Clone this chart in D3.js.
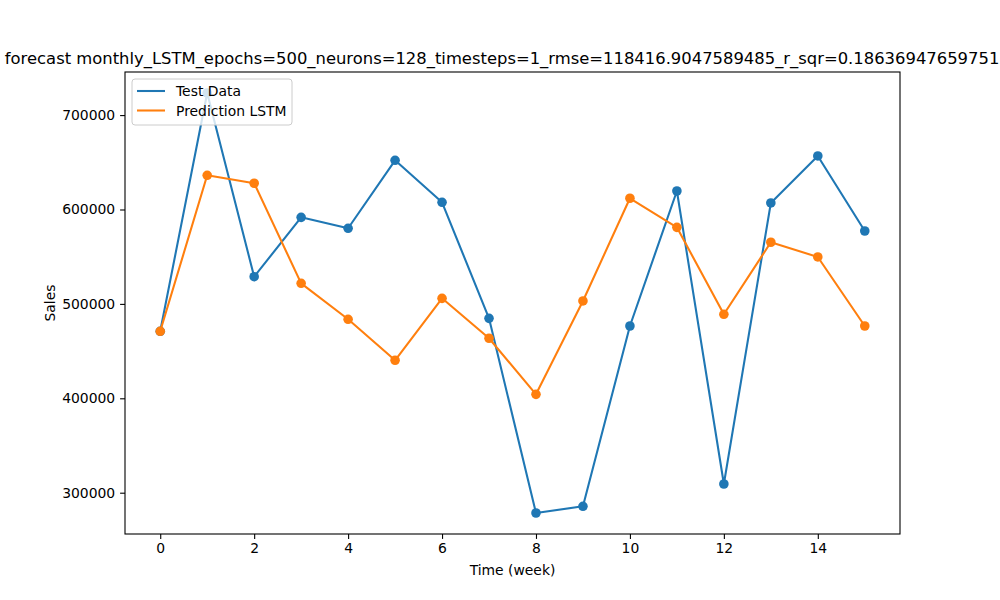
<!DOCTYPE html>
<html>
<head>
<meta charset="utf-8">
<script src="https://cdn.jsdelivr.net/npm/d3@7"></script>
<style>
  body { margin: 0; background: #fff; }
  svg { font-family: "DejaVu Sans", sans-serif; }
</style>
</head>
<body>
<div id="chart"></div>
<script>
// weeks on the x axis
const weeks = [0, 1, 2, 3, 4, 5, 6, 7, 8, 9, 10, 11, 12, 13, 14, 15];
const testData = [471000, 723400, 528800, 591700, 580100, 652100, 607600, 484700,
                  278500, 285600, 476600, 619600, 309200, 606900, 656700, 577200];
const predLSTM = [471000, 636200, 627800, 521800, 483700, 440300, 505900, 463600,
                  404200, 503100, 611900, 581100, 489000, 565300, 549700, 476600];
const seriesNames = ["Test Data", "Prediction LSTM"];
const xTicks = [0, 2, 4, 6, 8, 10, 12, 14];
const yTicks = [300000, 400000, 500000, 600000, 700000];
const titleText = "forecast monthly_LSTM_epochs=500_neurons=128_timesteps=1_rmse=118416.9047589485_r_sqr=0.1863694765975123";

const W = 1000, H = 600;
const margin = {top: 72, right: 100, bottom: 66, left: 125};
const width = W - margin.left - margin.right,
      height = H - margin.top - margin.bottom;

const svg = d3.select("#chart").append("svg")
    .attr("width", W)
    .attr("height", H);

// matplotlib style 5% margins
const allVals = testData.concat(predLSTM);
const ymin = d3.min(allVals), ymax = d3.max(allVals);
const ypad = (ymax - ymin) * 0.05;
const xpad = (weeks[weeks.length - 1] - weeks[0]) * 0.05;

const x = d3.scaleLinear()
    .domain([weeks[0] - xpad, weeks[weeks.length - 1] + xpad])
    .range([0, width]);
const y = d3.scaleLinear()
    .domain([ymin - ypad, ymax + ypad])
    .range([height, 0]);

const g = svg.append("g")
    .attr("transform", "translate(" + margin.left + "," + margin.top + ")");

const colors = ["#1f77b4", "#ff7f0e"];
const series = [testData, predLSTM];

const line = d3.line()
    .x((d, i) => x(weeks[i]))
    .y(d => y(d));

series.forEach(function(s, k) {
    g.append("path")
        .datum(s)
        .attr("fill", "none")
        .attr("stroke", colors[k])
        .attr("stroke-width", 2.08)
        .attr("stroke-linejoin", "round")
        .attr("d", line);
    g.selectAll(".dot" + k)
        .data(s)
        .enter().append("circle")
        .attr("class", "dot" + k)
        .attr("cx", (d, i) => x(weeks[i]))
        .attr("cy", d => y(d))
        .attr("r", 4.8)
        .attr("fill", colors[k]);
});

// axes
const xAxis = g.append("g")
    .attr("transform", "translate(0," + height + ")")
    .call(d3.axisBottom(x).tickValues(xTicks).tickSize(4.9).tickPadding(4))
    .style("font-family", "DejaVu Sans")
    .style("font-size", "13.9px");
const yAxis = g.append("g")
    .call(d3.axisLeft(y).tickValues(yTicks).tickFormat(d3.format("d")).tickSize(4.9).tickPadding(4.9))
    .style("font-family", "DejaVu Sans")
    .style("font-size", "13.9px");
[xAxis, yAxis].forEach(function(a) {
    a.select(".domain").remove();
    a.selectAll(".tick line").attr("stroke", "#000").attr("stroke-width", 1.1);
    a.selectAll(".tick text").attr("fill", "#000");
});

// frame
g.append("rect")
    .attr("width", width)
    .attr("height", height)
    .attr("fill", "none")
    .attr("stroke", "#000")
    .attr("stroke-width", 1.1);

// title + labels (title runs off both edges, like the original)
svg.append("text")
    .attr("x", margin.left + width / 2)
    .attr("y", margin.top - 8)
    .attr("text-anchor", "middle")
    .style("font-size", "16.4px")
    .text(titleText);

svg.append("text")
    .attr("x", margin.left + width / 2)
    .attr("y", 575)
    .attr("text-anchor", "middle")
    .style("font-size", "13.9px")
    .text("Time (week)");

svg.append("text")
    .attr("transform", "translate(55," + (margin.top + height / 2) + ") rotate(-90)")
    .attr("text-anchor", "middle")
    .style("font-size", "13.9px")
    .text("Sales");

// legend
const legend = g.append("g").attr("transform", "translate(7,7)");
legend.append("rect")
    .attr("width", 160)
    .attr("height", 46)
    .attr("rx", 3)
    .attr("fill", "#fff")
    .attr("fill-opacity", 0.8)
    .attr("stroke", "#cccccc")
    .attr("stroke-width", 1);
seriesNames.forEach(function(name, k) {
    const ly = 12 + k * 19.5;
    legend.append("line")
        .attr("x1", 5).attr("x2", 33)
        .attr("y1", ly).attr("y2", ly)
        .attr("stroke", colors[k])
        .attr("stroke-width", 2.08);
    legend.append("text")
        .attr("x", 44)
        .attr("y", ly + 5)
        .style("font-size", "13.9px")
        .text(name);
});
</script>
</body>
</html>
